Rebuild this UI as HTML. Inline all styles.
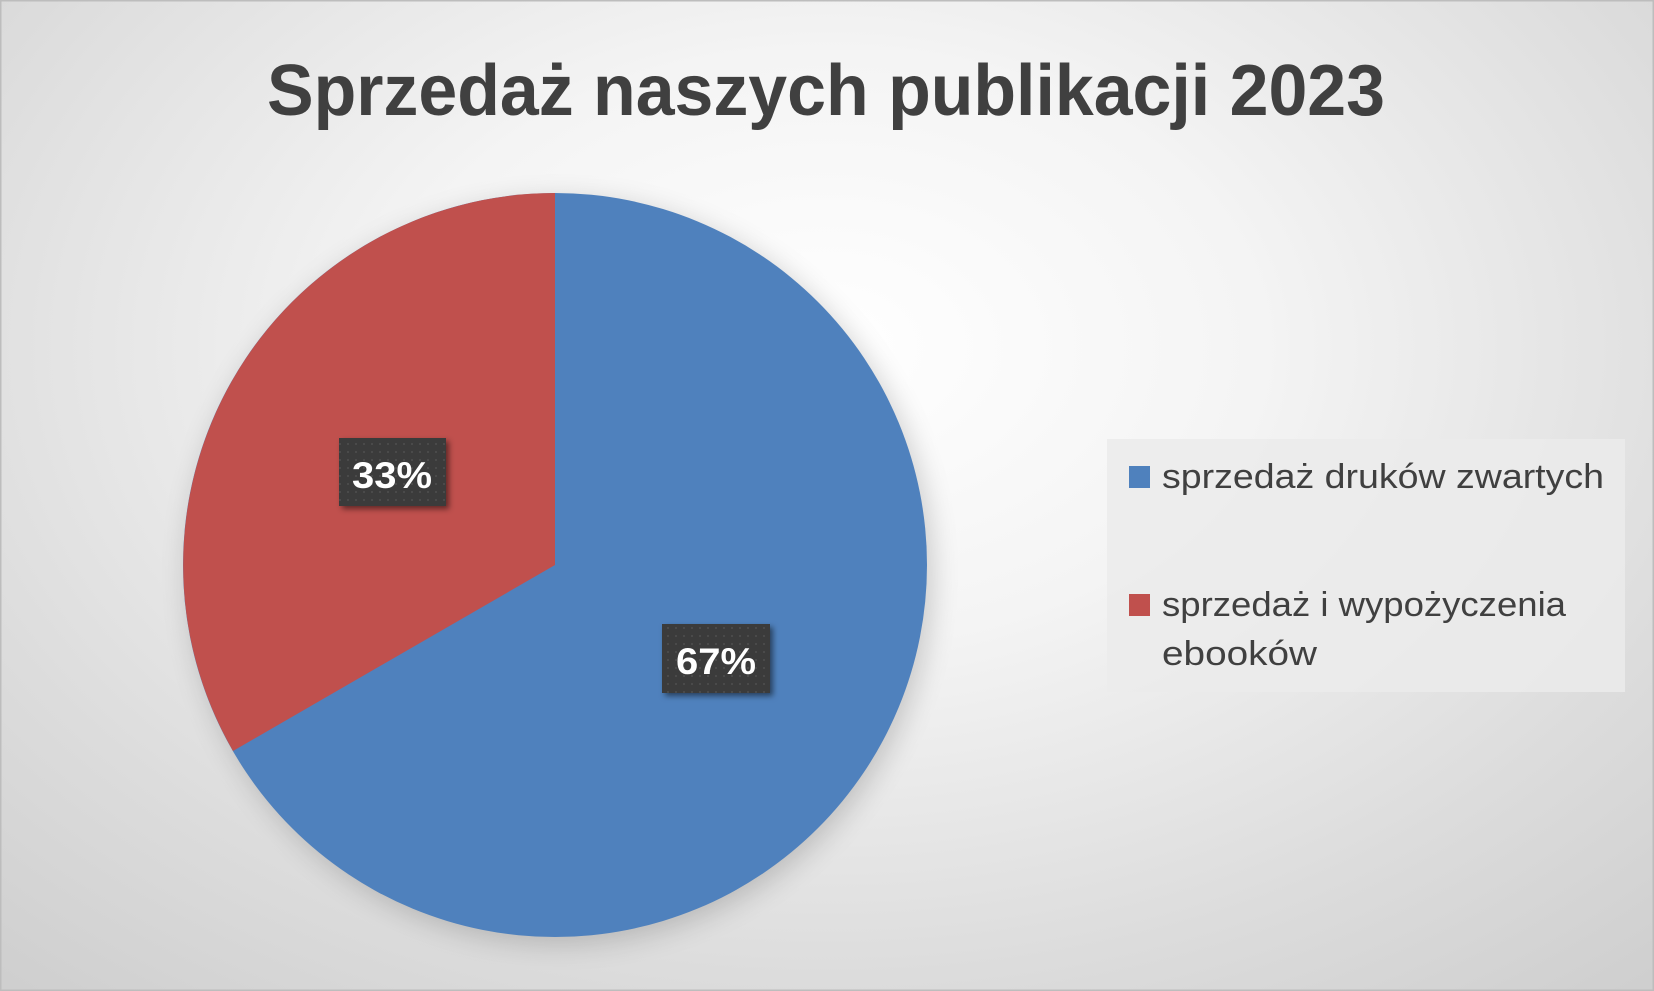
<!DOCTYPE html>
<html><head><meta charset="utf-8"><style>
html,body{margin:0;padding:0;width:1654px;height:991px;overflow:hidden}
body{background:radial-gradient(ellipse 75% 85% at 50% 35%,#ffffff 0%,#f4f4f4 35%,#dcdcdc 75%,#cfcfcf 100%);}
</style></head><body>
<svg width="1654" height="991" viewBox="0 0 1654 991" xmlns="http://www.w3.org/2000/svg" style="position:absolute;left:0;top:0">
<defs>
<filter id="sh" x="-20%" y="-20%" width="140%" height="140%"><feGaussianBlur stdDeviation="14"/></filter>
<filter id="ls" x="-20%" y="-20%" width="140%" height="140%"><feDropShadow dx="3" dy="3" stdDeviation="3" flood-color="#000" flood-opacity="0.5"/></filter>
<pattern id="dots" width="8" height="8" patternUnits="userSpaceOnUse"><rect width="8" height="8" fill="#3a3a3a"/><circle cx="4" cy="4" r="0.9" fill="#555"/></pattern>
</defs>
<rect x="0.5" y="0.5" width="1653" height="990" fill="none" stroke="#bdbdbd" stroke-width="2"/>
<text x="826" y="115" text-anchor="middle" font-family="Liberation Sans, sans-serif" font-weight="bold" font-size="72" fill="#404040" textLength="1118" lengthAdjust="spacingAndGlyphs">Sprzedaż naszych publikacji 2023</text>
<circle cx="560" cy="572" r="372" fill="#000" opacity="0.18" filter="url(#sh)"/>
<circle cx="555" cy="565" r="372" fill="#4f81bd"/>
<path d="M555,565 L555,193 A372,372 0 0 0 233,751 Z" fill="#c0504d"/>
<rect x="1107" y="439" width="518" height="253" fill="#ebebeb" opacity="0.85"/>
<rect x="1129" y="466" width="21" height="22" fill="#4f81bd"/>
<rect x="1129" y="594" width="21" height="22" fill="#c0504d"/>
<g font-family="Liberation Sans, sans-serif" font-size="34" fill="#404040">
<text x="1162" y="488" textLength="442" lengthAdjust="spacingAndGlyphs">sprzedaż druków zwartych</text>
<text x="1162" y="616" textLength="404" lengthAdjust="spacingAndGlyphs">sprzedaż i wypożyczenia</text>
<text x="1162" y="665" textLength="155" lengthAdjust="spacingAndGlyphs">ebooków</text>
</g>
<rect x="339" y="438" width="107" height="68" fill="url(#dots)" filter="url(#ls)"/>
<rect x="662" y="624" width="108" height="69" fill="url(#dots)" filter="url(#ls)"/>
<g font-family="Liberation Sans, sans-serif" font-weight="bold" font-size="37" fill="#fff" text-anchor="middle">
<text x="392" y="488" textLength="80" lengthAdjust="spacingAndGlyphs">33%</text>
<text x="716" y="674" textLength="80" lengthAdjust="spacingAndGlyphs">67%</text>
</g>
</svg>
</body></html>
